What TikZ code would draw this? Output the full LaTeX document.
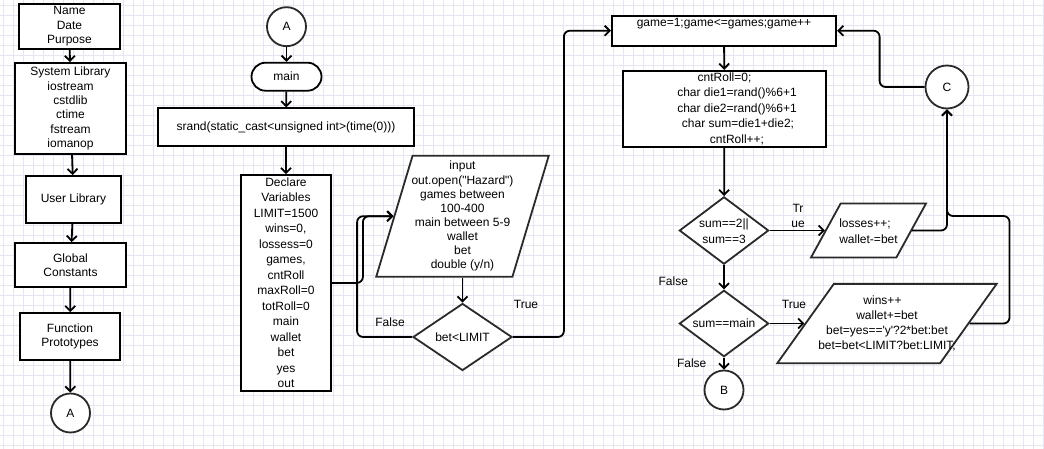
\documentclass[tikz,border=0pt]{standalone}
\usepackage{fontspec}
\newfontfamily\diceFont{Liberation Sans}
\usetikzlibrary{shapes.geometric,arrows.meta}

\newcommand{\diceLineWidth}{1.8pt}
\definecolor{diceGrid}{HTML}{E6E6F2}
\definecolor{diceEdge}{HTML}{2A2A2A}
\tikzset{
  dice base/.style={font=\diceFont\fontsize{12}{14.4}\selectfont, inner sep=0pt, align=center},
  dice spread/.style={font=\diceFont\fontsize{12}{15.5}\selectfont},
  dice grid/.style={draw=diceGrid, line width=0.5pt},
  dice arrow/.style={line width=\diceLineWidth, rounded corners=6pt,
    -{Straight Barb[length=5pt,width=10pt]}},
  dice process/.style={draw, rectangle, line width=\diceLineWidth, fill=white},
  dice terminal/.style={draw, rectangle, rounded corners=14pt,
    line width=\diceLineWidth, fill=white},
  dice connector/.style={draw=diceEdge, circle, line width=\diceLineWidth,
    minimum size=39pt, fill=white},
  dice io/.style={draw=diceEdge, trapezium, trapezium left angle=62, trapezium right angle=118,
    trapezium stretches=true, inner sep=2pt, line width=\diceLineWidth, fill=white},
  dice decision/.style={draw=diceEdge, diamond, inner sep=2pt, line width=\diceLineWidth, fill=white},
}

\begin{document}
\begin{tikzpicture}[
    x=1pt, y=-1pt,
    dice base,
    process/.style={dice process},
    terminal/.style={dice terminal},
    connector/.style={dice connector},
    io/.style={dice io},
    decision/.style={dice decision},
    spread/.style={dice spread},
    arrow/.style={dice arrow}
]
\useasboundingbox (0,0) rectangle (1044,449);
\fill[white] (0,0) rectangle (1044,449);
\foreach \gx in {3,13,...,1043} \draw[dice grid] (\gx,0) -- (\gx,449);
\foreach \gy in {5,15,...,445} \draw[dice grid] (0,\gy) -- (1044,\gy);

\node (head)   [process, minimum width=101pt, minimum height=45pt] at (69.5,26.5) {Name\\Date\\Purpose};
\node (syslib) [process, minimum width=111pt, minimum height=91pt] at (70.5,108.5)
  {System Library\\iostream\\cstdlib\\ctime\\fstream\\iomanop};
\node (usrlib) [process, minimum width=95pt, minimum height=47pt] at (73.5,199.5) {User Library};
\node (consts) [process, minimum width=111pt, minimum height=44pt] at (70.5,265) {Global\\Constants};
\node (protos) [process, minimum width=100pt, minimum height=47pt] at (70,336.5) {Function\\Prototypes};
\node (offA)   [connector] at (70.5,413) {A};

\node (onA)  [connector] at (286.5,26.7) {A};
\node (main) [terminal, minimum width=70pt, minimum height=28pt] at (286.5,76.7) {main};
\node (seed) [process, minimum width=256.6pt, minimum height=37.4pt] at (286,127)
  {srand(static\_cast<unsigned int>(time(0)))};
\node (decl) [process, spread, minimum width=90pt, minimum height=215.7pt] at (286,282.9)
  {Declare\\Variables\\LIMIT=1500\\wins=0,\\lossess=0\\games,\\cntRoll\\maxRoll=0\\totRoll=0\\main\\wallet\\bet\\yes\\out};
\node (input) [io, trapezium left angle=70, trapezium right angle=110,
  minimum width=172.6pt, minimum height=121pt] at (462.5,216.2) {};
\node (input text) [font=\diceFont\fontsize{12}{14.1}\selectfont] at (input)
  {input\\out.open("Hazard")\\games between\\100-400\\main between 5-9\\wallet\\bet\\double (y/n)};
\node (limit) [decision, minimum width=99pt, minimum height=67pt] at (462.5,337) {};
\node (limit text) at (limit) {bet<LIMIT};

\node (loop) [process, minimum width=224.3pt, minimum height=30pt] at (724,30.7) {};
\node (loop text) at ([yshift=-8.5pt]loop.north) {game=1;game<=games;game++};
\node (roll) [process, spread, minimum width=202.4pt, minimum height=76pt] at (724.5,108.7)
  {cntRoll=0;\\\hspace*{25pt}char die1=rand()\%6+1\\\hspace*{25pt}char die2=rand()\%6+1\\
   \hspace*{27pt}char sum=die1+die2;\\\hspace*{25pt}cntRoll++;};
\node (craps) [decision, minimum width=89.3pt, minimum height=67.3pt] at (724,230.5) {};
\node (craps text) [spread] at ([yshift=-0.7pt]craps) {sum==2||\\sum==3};
\node (point) [decision, minimum width=89.3pt, minimum height=66.4pt] at (724,323.5) {};
\node (point text) at (point) {sum==main};
\node (offB) [connector] at (724,390) {B};
\node (lose) [io, minimum width=115pt, minimum height=54pt] at (868.5,230.5) {};
\node (lose text) [spread, align=left] at ([yshift=-0.5pt]lose) {losses++;\\wallet-=bet};
\node (win) [io, minimum width=219.4pt, minimum height=79.3pt] at (887,323.5) {};
\node (win text) [font=\diceFont\fontsize{12}{15}\selectfont] at (win)
  {wins++\hspace*{9pt}\\wallet+=bet\\bet=yes=='y'?2*bet:bet\\bet=bet<LIMIT?bet:LIMIT;};
\node (onC) [connector, minimum size=43pt] at (947,87) {C};

\node (limit no)  at (390,322.7) {False};
\node (limit yes) at (526,304) {True};
\node (craps yes) at (798,216) {Tr\\ue};
\node (craps no)  at (673.3,281) {False};
\node (point yes) at (794,304) {True};
\node (point no)  at (691.7,363.3) {False};

\draw [arrow] (head)   -- (syslib);
\draw [arrow] (syslib) -- (usrlib);
\draw [arrow] (usrlib) -- (consts);
\draw [arrow] (consts) -- (protos);
\draw [arrow] (protos) -- (offA);
\draw [arrow] (onA)    -- (main);
\draw [arrow] (main)   -- (seed);
\draw [arrow] (seed)   -- (decl);
\draw [arrow] (decl.east) -- ++(31,0) |- (input);
\draw [arrow] (limit.west) -- ++(-55,0) |- (input);
\draw [arrow] (input)  -- (limit);
\draw [arrow] (limit.east) -- ++(51,0) |- (loop.west);
\draw [arrow] (loop)   -- (roll);
\draw [arrow] (roll)   -- (craps);
\draw [arrow] (craps)  -- (lose);
\draw [arrow] (craps)  -- (point);
\draw [arrow] (point)  -- (offB);
\draw [arrow] (point)  -- (win);
\draw [arrow] (lose.east) -| (onC);
\draw [arrow] (win.east) -- ++(40,0) |- ([yshift=14.5pt]lose.east -| onC) -- (onC);
\draw [arrow] (onC.west) -- ++(-45,0) |- (loop.east);
\end{tikzpicture}
\end{document}
